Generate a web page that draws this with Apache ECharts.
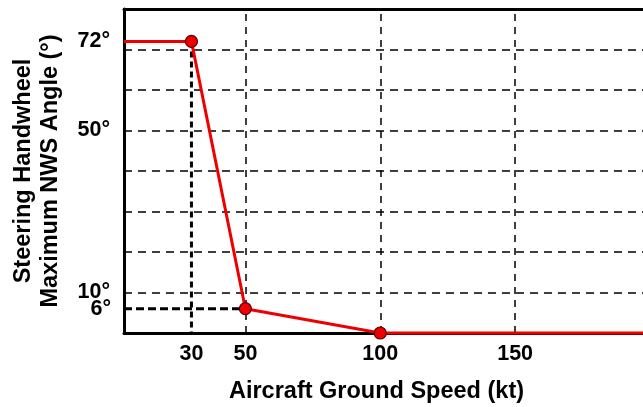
<!DOCTYPE html>
<html>
<head>
<meta charset="utf-8">
<script src="https://cdn.jsdelivr.net/npm/echarts@6/dist/echarts.min.js"></script>
<style>html,body{margin:0;padding:0;background:#fff}#c{width:643px;height:407px}</style>
</head>
<body>
<div id="c"></div>
<script>
// Data
const speedKt = [30, 50, 100];
const angleDeg = [72, 6, 0];
const xTicks = [30, 50, 100, 150];
const yTicks = [10, 50, 72];
const yTicksLow = [6];
const xGrid = [50, 100, 150];
const xRange = [5, 197.4];
const yRange = [0, 80];

const FONT = '"Liberation Sans", Arial, sans-serif';
const RED = '#ee0000';

const lineData = [[xRange[0], angleDeg[0]]]
  .concat(speedKt.map((s, i) => [s, angleDeg[i]]))
  .concat([[xRange[1], angleDeg[angleDeg.length - 1]]]);

const labelStyle = {color: '#000', fontFamily: FONT, fontWeight: 'bold', fontSize: 21.5};

const chart = echarts.init(document.getElementById('c'), null, {renderer: 'canvas'});
chart.setOption({
  animation: false,
  backgroundColor: '#fff',
  grid: {left: 124, right: 0, top: 9, bottom: 74, containLabel: false, outerBoundsMode: 'none'},
  xAxis: [{
    type: 'value', min: xRange[0], max: xRange[1],
    axisLine: {show: true, onZero: false, lineStyle: {color: '#000', width: 3}},
    axisTick: {show: false},
    splitLine: {show: false},
    axisLabel: Object.assign({customValues: xTicks, hideOverlap: false, margin: 10}, labelStyle),
    name: 'Aircraft Ground Speed (kt)', nameLocation: 'middle', nameGap: 47,
    nameTextStyle: {color: '#000', fontFamily: FONT, fontWeight: 'bold', fontSize: 23.5, padding: [0, 14, 0, 0]}
  }, {
    type: 'value', position: 'top', min: xRange[0], max: xRange[1],
    axisLine: {show: true, onZero: false, lineStyle: {color: '#000', width: 3}},
    axisTick: {show: false}, axisLabel: {show: false}, splitLine: {show: false}
  }],
  yAxis: [{
    type: 'value', min: yRange[0], max: yRange[1], interval: 10,
    axisLine: {show: true, onZero: false, lineStyle: {color: '#000', width: 3}},
    axisTick: {show: false},
    splitLine: {show: true, lineStyle: {color: '#000', width: 1.5, type: [8, 6]}},
    axisLabel: Object.assign({customValues: yTicks, hideOverlap: false, formatter: '{value}°', margin: 14}, labelStyle),
    name: 'Steering Handwheel\nMaximum NWS Angle (°)', nameLocation: 'middle', nameGap: 60, nameRotate: 90,
    nameTextStyle: {color: '#000', fontFamily: FONT, fontWeight: 'bold', fontSize: 23.5, lineHeight: 27}
  }, {
    type: 'value', position: 'left', min: yRange[0], max: yRange[1],
    axisLine: {show: false}, axisTick: {show: false}, splitLine: {show: false},
    axisLabel: Object.assign({customValues: yTicksLow, hideOverlap: false, formatter: '{value}°', margin: 13}, labelStyle)
  }],
  series: [{
    type: 'line',
    data: xGrid.map(v => [v, yRange[0]]),
    symbol: 'none', lineStyle: {opacity: 0}, silent: true,
    markLine: {
      silent: true, symbol: 'none', label: {show: false},
      lineStyle: {color: '#000', width: 1.5, type: [7, 6]},
      data: xGrid.map(v => ({xAxis: v}))
    }
  }, {
    type: 'line',
    data: [[speedKt[0], angleDeg[0]], [speedKt[0], yRange[0]]],
    symbol: 'none', z: 3,
    lineStyle: {color: '#000', width: 3, type: [6, 4]}
  }, {
    type: 'line',
    data: [[xRange[0], angleDeg[1]], [speedKt[1], angleDeg[1]]],
    symbol: 'none', z: 3,
    lineStyle: {color: '#000', width: 3, type: [8, 4]}
  }, {
    type: 'line', z: 5, clip: false,
    data: lineData.map((p, i) => ({
      value: p,
      symbol: (i === 0 || i === lineData.length - 1) ? 'none' : 'circle'
    })),
    symbolSize: 12,
    itemStyle: {color: RED, borderColor: '#5a0000', borderWidth: 1.2},
    lineStyle: {color: RED, width: 3}
  }]
});
</script>
</body>
</html>
